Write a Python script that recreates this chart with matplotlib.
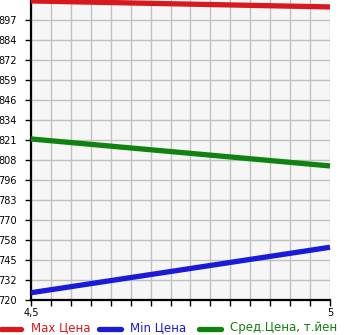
import numpy as np
import matplotlib
matplotlib.use("Agg")
import matplotlib.pyplot as plt
from matplotlib.lines import Line2D

x_vals = [4.5, 5.0]
max_price = [909.4, 905.6]
min_price = [724.6, 753.4]
avg_price = [822.0, 804.9]

y_tick_labels = ["720", "732", "745", "758", "770", "783", "796", "808",
                 "821", "834", "846", "859", "872", "884", "897"]
x_tick_labels = ["4,5", "5"]
legend_labels = ["Max Цена", "Min Цена", "Сред.Цена, т.йен"]
colors = ["#d7191e", "#1a1ad8", "#0f820f"]

plt.rcParams['font.family'] = ['DejaVu Sans']

W, H = 345, 335
fig = plt.figure(figsize=(W/100, H/100), dpi=100)
ax = fig.add_axes([31/W, 35/H, 299/W, 300/H])
ax.set_facecolor("#f6f6f6")

ymin, ymax = 720, 910
xmin, xmax = 4.5, 5.0
ax.set_xlim(xmin, xmax)
ax.set_ylim(ymin, ymax)

yt = np.linspace(ymin, ymax, 16)[:15]
ax.set_yticks(yt)
ax.set_yticklabels(y_tick_labels)
xminor = np.linspace(xmin, xmax, 16)
ax.set_xticks([xmin, xmax])
ax.set_xticklabels(x_tick_labels)
ax.set_xticks(xminor, minor=True)

ax.grid(True, which='both', axis='x', color="#c0c0c0", linewidth=1.0)
ax.grid(True, which='major', axis='y', color="#c0c0c0", linewidth=1.0)
ax.set_axisbelow(True)
for s in ['top', 'right']:
    ax.spines[s].set_visible(False)
for s in ['left', 'bottom']:
    ax.spines[s].set_linewidth(1.6)
    ax.spines[s].set_color('black')

ax.tick_params(axis='y', which='major', length=4, width=1, pad=6, labelsize=7, colors='black')
ax.tick_params(axis='x', which='both', length=4, width=1, pad=2, labelsize=7)

lw = 3.8
for series, c in zip([max_price, min_price, avg_price], colors):
    ax.plot(x_vals, series, color=c, linewidth=lw, solid_capstyle='butt', clip_on=False, zorder=3)

# manual legend (pixel positions converted to figure fraction)
sample_x = [(1, 21), (99, 121), (199, 221)]
text_x = [31, 130, 230]
ly = 1 - 329/H
ty = 1 - 327.5/H
for (x0, x1), tx, lab, c in zip(sample_x, text_x, legend_labels, colors):
    fig.add_artist(Line2D([x0/W, x1/W], [ly, ly], transform=fig.transFigure,
                          color=c, linewidth=lw, solid_capstyle='round'))
    fig.text(tx/W, ty, lab, color=c, fontsize=8.5, ha='left', va='center')

fig.savefig("out.png", dpi=100, facecolor='white')
